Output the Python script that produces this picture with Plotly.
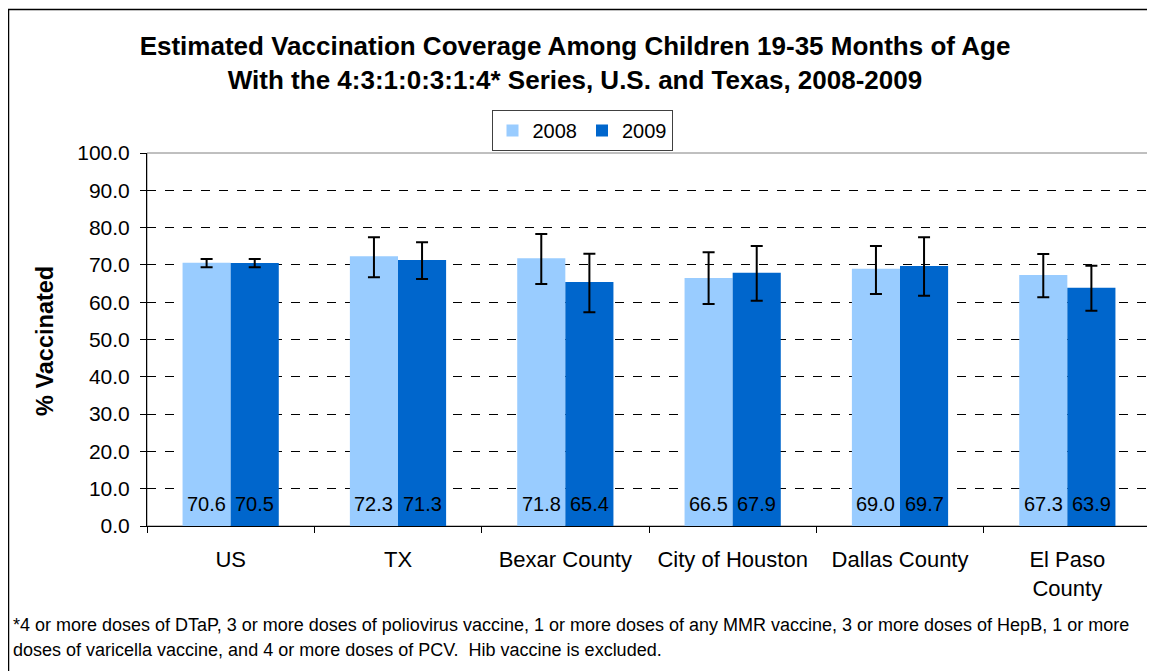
import plotly.graph_objects as go

categories = ["US", "TX", "Bexar County", "City of Houston", "Dallas County", "El Paso<br>County"]
years = ["2008", "2009"]
values_2008 = [70.6, 72.3, 71.8, 66.5, 69.0, 67.3]
values_2009 = [70.5, 71.3, 65.4, 67.9, 69.7, 63.9]
upper_2008 = [71.6, 77.4, 78.3, 73.4, 75.1, 72.9]
lower_2008 = [69.4, 66.7, 64.9, 59.5, 62.2, 61.3]
upper_2009 = [71.6, 76.1, 73.0, 75.1, 77.4, 69.8]
lower_2009 = [69.4, 66.2, 57.3, 60.4, 61.7, 57.7]
colors = ["#99CCFF", "#0066CC"]
y_ticks = [0, 10, 20, 30, 40, 50, 60, 70, 80, 90, 100]
footnote_lines = [
    "*4 or more doses of DTaP, 3 or more doses of poliovirus vaccine, 1 or more doses of any MMR vaccine, 3 or more doses of HepB, 1 or more",
    "doses of varicella vaccine, and 4 or more doses of PCV.  Hib vaccine is excluded.",
]

# page body has an 8px margin; work in screen pixels and subtract it
O = 8
W, H = 1155 - O, 671 - O
L, R, T, B = 147 - O, 1151 - O, 153 - O, 526 - O
FONT = "Arial, Liberation Sans, sans-serif"
BAR_W = (R - L) / len(categories) * 0.575 / 2

fig = go.Figure()
for name, vals, up, lo, col in [
    (years[0], values_2008, upper_2008, lower_2008, colors[0]),
    (years[1], values_2009, upper_2009, lower_2009, colors[1]),
]:
    fig.add_trace(go.Bar(
        name=name, x=categories, y=vals, marker=dict(color=col, line=dict(width=0)),
        error_y=dict(type="data", symmetric=False,
                     array=[u - v for u, v in zip(up, vals)],
                     arrayminus=[v - l for l, v in zip(lo, vals)],
                     color="black", thickness=2, width=6),
    ))

# value labels at the bottom of each bar
for sign, vals in [(-1, values_2008), (1, values_2009)]:
    for c, v in zip(categories, vals):
        fig.add_annotation(
            x=c, y=0, xref="x", yref="y", xanchor="center", yanchor="bottom",
            xshift=sign * BAR_W / 2, yshift=9, showarrow=False, text=f"{v:.1f}",
            font=dict(family=FONT, size=20, color="black"),
        )

def px_x(x):
    return (x - O - L) / (R - L)

def px_y(y):
    return (B - (y - O)) / (B - T)

fig.update_layout(
    width=W, height=H,
    margin=dict(l=L, r=W - R, t=T, b=H - B, pad=0),
    paper_bgcolor="white", plot_bgcolor="white",
    font=dict(family=FONT, color="black"),
    barmode="group", bargap=0.425, bargroupgap=0,
    showlegend=True,
    title=dict(
        text="Estimated Vaccination Coverage Among Children 19-35 Months of Age<br>With the 4:3:1:0:3:1:4* Series, U.S. and Texas, 2008-2009",
        x=(575 - O) / W, xanchor="center", y=1 - (55 - O) / H, yanchor="top",
        font=dict(family=FONT, size=26, color="black", weight="bold"),
    ),
    legend=dict(
        orientation="h", x=px_x(582), xanchor="center", y=px_y(110), yanchor="top",
        bordercolor="#404040", borderwidth=1, font=dict(size=20),
        itemwidth=30, tracegroupgap=0,
    ),
    xaxis=dict(
        type="category", showline=True, linecolor="black", linewidth=1,
        ticks="outside", tickson="boundaries", ticklen=6, tickcolor="black",
        tickfont=dict(size=22), showgrid=False, ticklabelstandoff=14,
    ),
    yaxis=dict(
        range=[0, 100], tickvals=y_ticks, ticktext=[f"{v:.1f}" for v in y_ticks],
        showline=True, linecolor="black", linewidth=1,
        ticks="outside", ticklen=6, tickcolor="black", tickfont=dict(size=21),
        showgrid=True, gridcolor="black", griddash="dash", gridwidth=1,
        zeroline=False, ticklabelstandoff=6,
    ),
)

# Plot-area border (gray) and outer frame
fig.add_shape(type="rect", xref="paper", yref="paper", x0=0, x1=1, y0=0, y1=1,
              line=dict(color="#808080", width=1), layer="below")
fig.add_shape(type="rect", xref="paper", yref="paper",
              x0=px_x(8.5), x1=px_x(1200), y0=px_y(760), y1=px_y(9.5),
              line=dict(color="black", width=1.5), layer="below")

fig.add_annotation(
    xref="paper", yref="paper", x=px_x(45), y=px_y(341), xanchor="center", yanchor="middle",
    textangle=-90, showarrow=False, text="<b>% Vaccinated</b>",
    font=dict(family=FONT, size=23.5, color="black"),
)

for line, yc in zip(footnote_lines, [625, 650]):
    fig.add_annotation(
        xref="paper", yref="paper", x=px_x(11), y=px_y(yc), xanchor="left", yanchor="middle",
        align="left", showarrow=False, text=line,
        font=dict(family=FONT, size=18, color="black"),
    )

fig.write_html("out.html")
